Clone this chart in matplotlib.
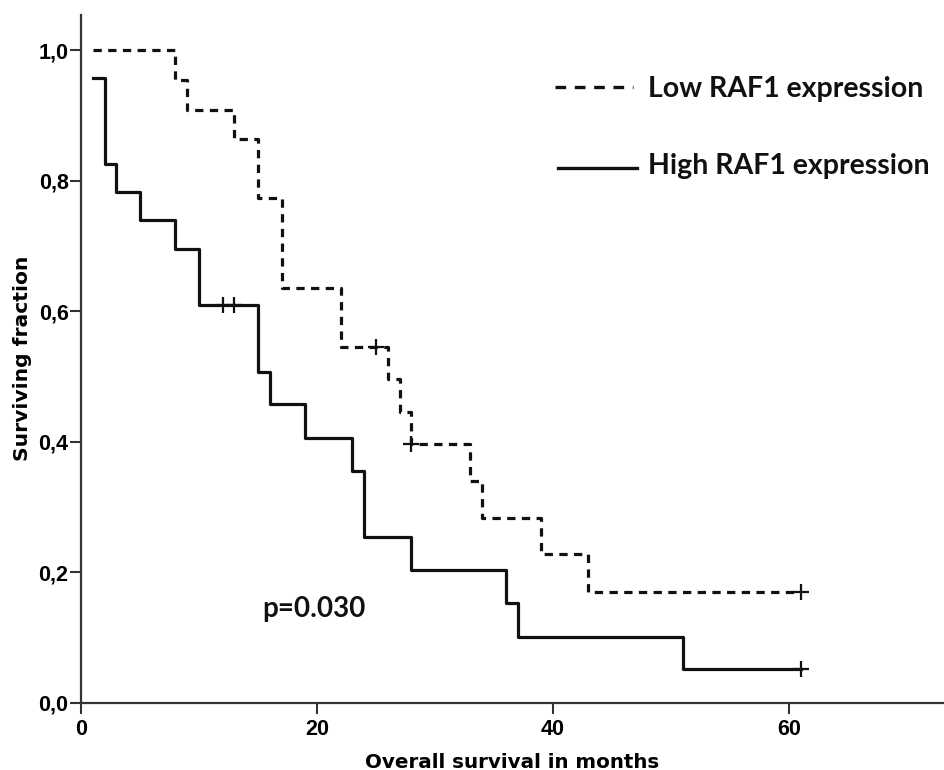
import matplotlib
matplotlib.use("Agg")
import matplotlib.pyplot as plt
from matplotlib.lines import Line2D

# Kaplan-Meier steps (months, surviving fraction)
low_tempos = [1, 8, 9, 13, 15, 17, 22, 26, 27, 28, 33, 34, 39, 43, 61]
low_surv = [1.0, 0.955, 0.909, 0.864, 0.773, 0.636, 0.545, 0.496, 0.446, 0.397, 0.340, 0.283, 0.227, 0.170, 0.170]
low_censura = [25, 28, 61]
low_censura_surv = [0.545, 0.397, 0.170]

high_tempos = [1, 2, 3, 5, 8, 10, 15, 16, 19, 23, 24, 28, 36, 37, 51, 61]
high_surv = [0.957, 0.826, 0.783, 0.739, 0.696, 0.609, 0.507, 0.457, 0.406, 0.355, 0.254, 0.203, 0.152, 0.101, 0.051, 0.051]
high_censura = [12, 13, 61]
high_censura_surv = [0.609, 0.609, 0.051]

xticks = [0, 20, 40, 60]
yticks = [0.0, 0.2, 0.4, 0.6, 0.8, 1.0]
ytick_labels = ["0,0", "0,2", "0,4", "0,6", "0,8", "1,0"]

W, H = 944, 770
fig = plt.figure(figsize=(W / 100, H / 100), dpi=100)
ax = fig.add_axes([81 / W, 1 - 702.5 / H, (W - 81) / W, 687.5 / H])

preto = "#111111"
ax.step(low_tempos, low_surv, where="post", color=preto, lw=2.3,
        linestyle=(0, (2.6, 2.0)))
ax.step(high_tempos, high_surv, where="post", color=preto, lw=2.3)
ax.plot(low_censura, low_censura_surv, "+", color=preto, ms=11, mew=1.6)
ax.plot(high_censura, high_censura_surv, "+", color=preto, ms=11, mew=1.6)

ax.set_xlim(0, (W - 81) / 11.8)
ax.set_ylim(0, 1.054)

ax.spines["top"].set_visible(False)
ax.spines["right"].set_visible(False)
for s in ["left", "bottom"]:
    ax.spines[s].set_linewidth(1.6)
    ax.spines[s].set_color("#333333")

fonte_tick = dict(family=["Liberation Sans Narrow", "Liberation Sans"], weight="bold", size=15.5)
ax.set_xticks(xticks)
ax.set_xticklabels([str(t) for t in xticks], fontdict=fonte_tick)
ax.set_yticks(yticks)
ax.set_yticklabels(ytick_labels, fontdict=fonte_tick)
ax.tick_params(direction="out", length=8, width=1.5, color="#333333", pad=1)
ax.tick_params(axis="x", pad=4)

ax.set_xlabel("Overall survival in months", family="DejaVu Sans", weight="bold",
              size=14.3, labelpad=9)
ax.set_ylabel("Surviving fraction", family="DejaVu Sans", weight="bold",
              size=14.6, labelpad=5)

# p-value
fig.text(262 / W, 1 - 617 / H, "p=0.030", family="Lato", weight="bold",
         size=20, va="baseline", ha="left", color=preto)

# legend drawn by hand like the original
fig.add_artist(Line2D([555 / W, 633 / W], [1 - 87 / H, 1 - 87 / H], color=preto,
                      lw=2.4, linestyle=(0, (3.2, 2.6))))
fig.add_artist(Line2D([558 / W, 637 / W], [1 - 168 / H, 1 - 168 / H], color=preto,
                      lw=2.4))
fig.text(648 / W, 1 - 96.5 / H, "Low RAF1 expression", family="Lato", weight="bold",
         size=20.5, va="baseline", ha="left", color=preto)
fig.text(648 / W, 1 - 174 / H, "High RAF1 expression", family="Lato", weight="bold",
         size=20.5, va="baseline", ha="left", color=preto)

fig.savefig("out.png", dpi=100)
